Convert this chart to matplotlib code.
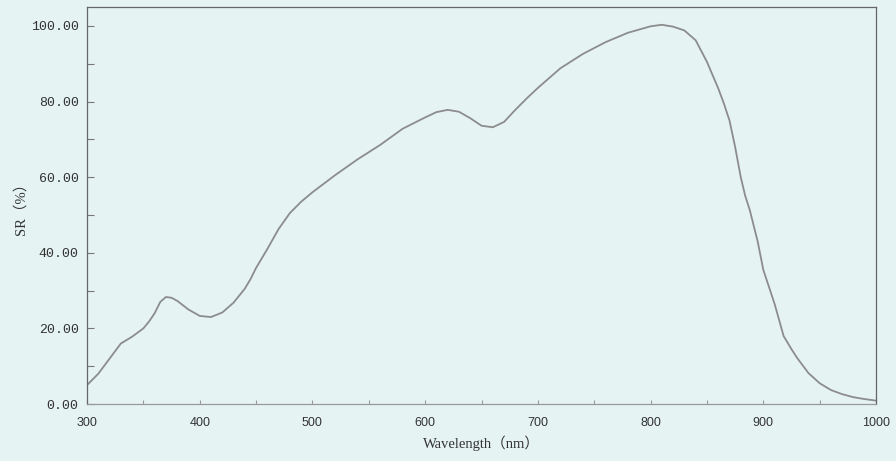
import numpy as np
import matplotlib
matplotlib.use("Agg")
import matplotlib.pyplot as plt
from matplotlib.ticker import MultipleLocator, FormatStrFormatter

# spectral response
wavelength = [300, 310, 320, 330, 340, 350, 355, 360, 365, 370, 375, 380, 390,
              400, 410, 420, 430, 440, 445, 450, 460, 470, 480, 490, 500, 520,
              540, 560, 580, 600, 610, 620, 630, 640, 650, 660, 670, 680, 690,
              700, 720, 740, 760, 780, 800, 810, 820, 830, 840, 850, 860, 865,
              870, 875, 880, 884, 888, 895, 900, 910, 918, 925, 930, 940, 950,
              960, 970, 980, 990, 1000]
sr = [5.0, 8.0, 12.0, 16.0, 17.8, 20.0, 21.8, 24.0, 27.0, 28.3, 28.1, 27.3, 25.0,
      23.3, 23.0, 24.2, 26.8, 30.5, 33.0, 36.0, 41.0, 46.3, 50.5, 53.5, 56.0, 60.5,
      64.7, 68.5, 72.8, 75.8, 77.2, 77.8, 77.3, 75.6, 73.6, 73.2, 74.6, 77.8, 80.8,
      83.6, 88.8, 92.6, 95.7, 98.2, 99.9, 100.3, 99.8, 98.8, 96.2, 90.5, 83.5, 79.5,
      75.0, 68.0, 60.0, 55.0, 51.3, 43.0, 35.5, 26.5, 18.0, 14.5, 12.2, 8.2, 5.5,
      3.7, 2.6, 1.8, 1.3, 0.9]

bg = "#e5f3f3"

fig = plt.figure(figsize=(8.96, 4.61), dpi=100, facecolor=bg)
ax = fig.add_axes([0.0971, 0.1236, 0.8806, 0.8612], facecolor=bg)

ax.plot(wavelength, sr, color="#8c8c8c", lw=1.3, solid_joinstyle="round")

ax.set_xlim(300, 1000)
ax.set_ylim(0, 105)
ax.xaxis.set_major_locator(MultipleLocator(100))
ax.xaxis.set_minor_locator(MultipleLocator(50))
ax.yaxis.set_major_locator(MultipleLocator(20))
ax.yaxis.set_minor_locator(MultipleLocator(10))
ax.yaxis.set_major_formatter(FormatStrFormatter("%.2f"))

ax.tick_params(axis="y", which="both", direction="in", length=5, width=0.8,
               color="#777777", pad=6, labelsize=9.5, labelcolor="#333333")
ax.tick_params(axis="x", which="both", direction="in", length=3, width=0.8,
               color="#999999", pad=9, labelsize=9, labelcolor="#333333")
for lab in ax.get_yticklabels():
    lab.set_family("Liberation Mono")
for lab in ax.get_xticklabels():
    lab.set_family("Liberation Sans")

for side in ["left", "right", "top"]:
    ax.spines[side].set_color("#666666")
    ax.spines[side].set_linewidth(0.9)
ax.spines["bottom"].set_color("#999999")
ax.spines["bottom"].set_linestyle((0, (1, 1)))
ax.spines["bottom"].set_linewidth(0.9)

ax.set_xlabel("Wavelength（nm）", family=["Liberation Serif", "Noto Sans CJK SC"],
              fontsize=10.5, color="#333333", labelpad=5)
ax.set_ylabel("SR（%）", family=["Liberation Serif", "Noto Sans CJK SC"],
              fontsize=10.5, color="#333333", labelpad=2)

fig.savefig("out.png", dpi=100, facecolor=bg)
